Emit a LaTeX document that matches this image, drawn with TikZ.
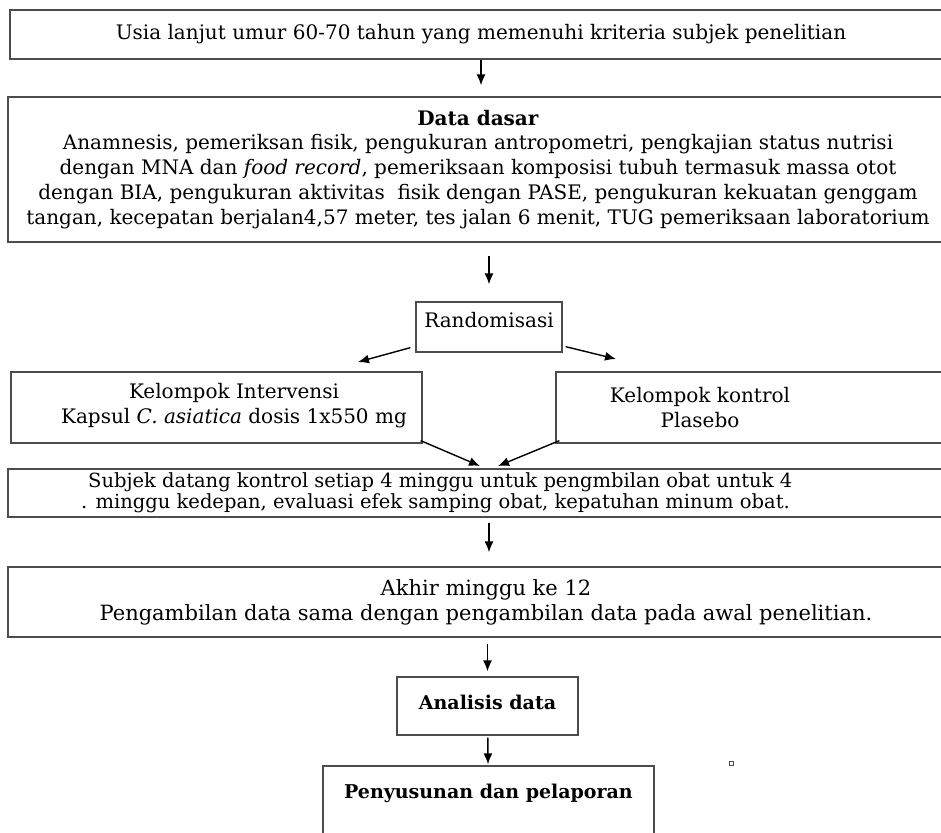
\documentclass[tikz,border=0pt]{standalone}
\usepackage{fontspec}
\setmainfont{DejaVu Serif}
\usepackage{tikz}
\usetikzlibrary{arrows.meta}
\tikzstyle{flow}=[x=1pt, y=-1pt, font=\fontsize{20}{25}\selectfont]
\tikzstyle{box}=[rectangle, draw=black!70, line width=1.3pt, inner sep=0pt, align=center]
\tikzstyle{txt}=[inner sep=0pt, align=center]
\tikzstyle{big}=[font=\fontsize{20}{24}\selectfont]
\tikzstyle{bigbold}=[font=\bfseries\fontsize{19}{24}\selectfont]
\tikzstyle{edge}=[-{Latex[length=11pt, width=9pt]}, line width=1.4pt]

\begin{document}
\begin{tikzpicture}[flow]
	\path[use as bounding box] (0,0) rectangle (941,832);

	%The main boxes
	\draw (481,34.5) node[box, minimum width=942pt, minimum height=49pt] (usia) {Usia lanjut umur 60-70 tahun yang memenuhi kriteria subjek penelitian};
	\draw (478,169.5) node[box, minimum width=940pt, minimum height=145pt] (dasar) {\textbf{Data dasar}\\[-1pt]
		Anamnesis, pemeriksan fisik, pengukuran antropometri, pengkajian status nutrisi\\
		dengan MNA dan \textit{food record}, pemeriksaan komposisi tubuh termasuk massa otot\\
		dengan BIA, pengukuran aktivitas\ \ fisik dengan PASE, pengukuran kekuatan genggam\\
		tangan, kecepatan berjalan4,57 meter, tes jalan 6 menit, TUG pemeriksaan laboratorium};
	\draw (489,327) node[box, big, minimum width=146pt, text height=25pt, text depth=25pt] (acak) {Randomisasi};

	%The two groups
	\draw (216.5,407.5) node[box, minimum width=411pt, minimum height=71pt] (intv) {};
	\draw (234,406) node[txt] (t-intv) {Kelompok Intervensi\\ Kapsul \textit{C. asiatica} dosis 1x550 mg};
	\draw (760,407.5) node[box, minimum width=408pt, minimum height=71pt] (kontrol) {};
	\draw (700,408) node[txt] (t-kontrol) {Kelompok kontrol\\ Plasebo};

	%The follow-up
	\draw (480,493) node[box, minimum width=944pt, minimum height=48pt] (subjek) {};
	\draw (81,493) node[txt, anchor=west, align=left, font=\fontsize{19.5}{21}\selectfont] (t-subjek) {\hspace*{7pt}Subjek datang kontrol setiap 4 minggu untuk pengmbilan obat untuk 4\\ . minggu kedepan, evaluasi efek samping obat, kepatuhan minum obat.};
	\draw (486,602) node[box, font=\fontsize{21}{25}\selectfont, minimum width=956pt, minimum height=70pt] (akhir) {Akhir minggu ke 12\\ Pengambilan data sama dengan pengambilan data pada awal penelitian.};
	\draw (487.5,706) node[box, bigbold, minimum width=181pt, text height=32pt, text depth=26pt] (analisis) {Analisis data};
	\draw (488.5,816) node[box, bigbold, minimum width=331pt, text height=32pt, text depth=68pt] (lapor) {Penyusunan dan pelaporan};
	\draw (731,763) node[draw=black!70, line width=0.6pt, minimum size=4pt, inner sep=0pt] (titik) {};

	%The free arrow ends
	\coordinate (ki) at (358,362);
	\coordinate (ka) at (616,359);
	\coordinate (sk) at (480,466);
	\coordinate (sa) at (498,466);

	\draw[edge, shorten >=11pt] (usia.south) -- (usia.south |- dasar.north);
	\draw[edge, shorten <=13pt, shorten >=17pt] (dasar.south -| acak.north) -- (acak.north);
	\draw[edge] ([shift={(-5pt,5pt)}]acak.south west) -- (ki);
	\draw[edge] ([shift={(3pt,6pt)}]acak.south east) -- (ka);
	\draw[edge] ([shift={(-2pt,3pt)}]intv.south east) -- (sk);
	\draw[edge] ([shift={(4pt,3pt)}]kontrol.south west) -- (sa);
	\draw[edge, shorten <=5pt, shorten >=14pt] (subjek.south -| acak) -- (akhir.north -| acak);
	\draw[edge, shorten <=6pt, shorten >=5pt] (akhir.south -| analisis) -- (analisis.north);
	\draw[edge, shorten <=2pt, shorten >=1pt] (analisis) -- (lapor);
\end{tikzpicture}
\end{document}
